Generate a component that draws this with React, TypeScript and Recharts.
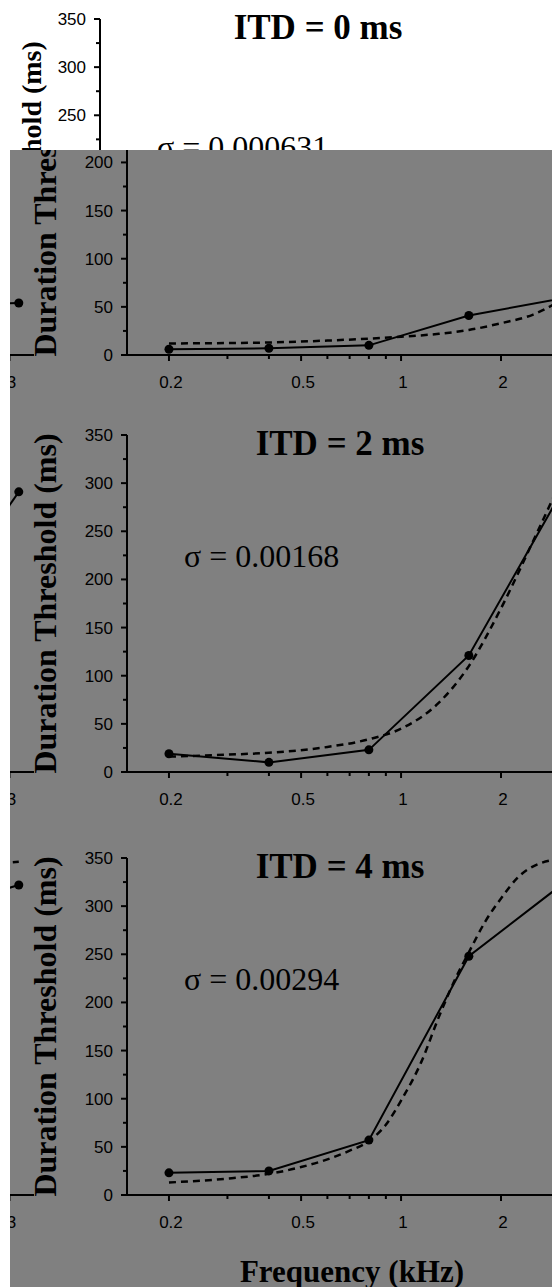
import { Line, LineChart, XAxis, YAxis } from "recharts";

// frequencies (kHz) of the measured points
const FREQS = [0.2, 0.4, 0.8, 1.6, 3.2];

const itd0Thresholds = [6, 7, 10, 41, 60];
const itd2Thresholds = [19, 10, 23, 121, 304];
const itd4Thresholds = [23, 25, 57, 248, 328];

// model fits (dashed)
const itd0FitFreqs = [0.2, 0.4, 0.6, 0.8, 1.0, 1.3, 1.6, 2.0, 2.5, 3.2];
const itd0FitValues = [12, 13, 15, 17, 19, 22, 26, 33, 42, 62];
const itd2FitFreqs = [0.2, 0.3, 0.4, 0.6, 0.8, 1.0, 1.3, 1.6, 2.0, 2.5, 3.2];
const itd2FitValues = [16, 18, 20, 26, 34, 45, 72, 110, 170, 240, 320];
const itd4FitFreqs = [0.2, 0.3, 0.4, 0.5, 0.6, 0.7, 0.8, 0.9, 1.0, 1.15, 1.3, 1.45, 1.6, 1.8, 2.0, 2.25, 2.6, 3.2];
const itd4FitValues = [13, 17, 22, 29, 37, 46, 56, 73, 98, 138, 185, 223, 252, 285, 308, 330, 344, 350];

// right edge of the neighbouring (cropped) panels
const neighborFreqs = [1.6, 3.2];
const neighbor0Thresholds = [52, 54];
const neighbor2Thresholds = [140, 291];
const neighbor4Thresholds = [290, 322];
const neighbor4FitFreqs = [2.6, 3.2];
const neighbor4FitValues = [344, 346];

const X_TICKS = [0.2, 0.3, 0.4, 0.5, 0.6, 0.7, 0.8, 0.9, 1, 2, 3];
const X_LABELS = [0.2, 0.5, 1, 2, 3];
const Y_TICKS = [0, 25, 50, 75, 100, 125, 150, 175, 200, 225, 250, 275, 300, 325, 350];
const Y_LABELS = [0, 50, 100, 150, 200, 250, 300, 350];

const X_DOMAIN = [0.1495, 3.556];
const GRAY = "#808080";
const SERIF = "'Liberation Serif', 'Times New Roman', serif";
const SANS = "'Liberation Sans', Arial, sans-serif";

const toRows = (xs: number[], ys: number[]) => xs.map((f, i) => ({ f, v: ys[i] }));

const XTick = (props: any) => {
  const { x, y, payload } = props;
  const labelled = X_LABELS.includes(payload.value);
  return (
    <g>
      <line x1={x} x2={x} y1={y} y2={y + (labelled ? 6 : 4)} stroke="#000" strokeWidth={2} />
      {labelled && (
        <text x={x + 2} y={y + 33} textAnchor="middle" fontSize={17} fontFamily={SANS} fill="#000">
          {payload.value}
        </text>
      )}
    </g>
  );
};

const YTick = (props: any) => {
  const { x, y, payload } = props;
  const labelled = Y_LABELS.includes(payload.value);
  return (
    <g>
      <line x1={x - (labelled ? 6 : 4)} x2={x} y1={y} y2={y} stroke="#000" strokeWidth={2} />
      {labelled && (
        <text x={x - 14} y={y + 6} textAnchor="end" fontSize={17} fontFamily={SANS} fill="#000">
          {payload.value}
        </text>
      )}
    </g>
  );
};

type PanelProps = {
  zero: number;
  left: number;
  title?: string;
  sigma?: string;
  freqs: number[];
  values: number[];
  fitFreqs?: number[];
  fitValues?: number[];
  titleX?: number;
  sigmaY?: number;
  labelX?: number;
  labelY?: number;
  labelSize?: number;
};

const Panel = ({
  zero,
  left,
  title,
  sigma,
  freqs,
  values,
  fitFreqs,
  fitValues,
  titleX = 340,
  sigmaY = 142,
  labelX = 56,
  labelY = 178.5,
  labelSize = 32,
}: PanelProps) => {
  const points = toRows(freqs, values);
  const fit = fitFreqs && fitValues ? toRows(fitFreqs, fitValues) : null;
  return (
    <div style={{ position: "absolute", left, top: zero - 347, width: 594, height: 397 }}>
      <LineChart width={594} height={397} margin={{ top: 10, right: 10, bottom: 0, left: 67 }}>
        <XAxis
          dataKey="f"
          type="number"
          scale="log"
          domain={X_DOMAIN}
          allowDataOverflow
          ticks={X_TICKS}
          interval={0}
          tick={XTick}
          tickLine={false}
          tickSize={0}
          tickMargin={0}
          axisLine={{ stroke: "#000", strokeWidth: 2 }}
          height={50}
        />
        <YAxis
          type="number"
          domain={[0, 350]}
          ticks={Y_TICKS}
          interval={0}
          tick={YTick}
          tickLine={false}
          tickSize={0}
          tickMargin={0}
          axisLine={{ stroke: "#000", strokeWidth: 2 }}
          width={60}
        />
        {fit && (
          <Line
            data={fit}
            dataKey="v"
            type="monotone"
            stroke="#000"
            strokeWidth={2.5}
            strokeDasharray="7 5"
            dot={false}
            isAnimationActive={false}
          />
        )}
        <Line
          data={points}
          dataKey="v"
          type="linear"
          stroke="#000"
          strokeWidth={2}
          dot={{ r: 4.5, fill: "#000", stroke: "#000", strokeWidth: 0 }}
          isAnimationActive={false}
        />
      </LineChart>
      <svg
        width={594}
        height={397}
        style={{ position: "absolute", left: 0, top: 0, pointerEvents: "none" }}
      >
        {title && (
          <text x={titleX} y={30} textAnchor="middle" fontSize={35} fontWeight="bold" fontFamily={SERIF} fill="#000">
            {title}
          </text>
        )}
        {sigma && (
          <text x={184} y={sigmaY} fontSize={32} fontFamily={SERIF} fill="#000">
            {sigma}
          </text>
        )}
        {title && (
          <text
            transform={`translate(${labelX},${labelY}) rotate(-90)`}
            textAnchor="middle"
            fontSize={labelSize}
            fontWeight="bold"
            fontFamily={SERIF}
            fill="#000"
          >
            Duration Threshold (ms)
          </text>
        )}
      </svg>
    </div>
  );
};

const NEIGHBOR = -550;

export default function App() {
  return (
    <div
      style={{
        position: "absolute",
        left: 0,
        top: 0,
        width: 552,
        height: 1287,
        overflow: "hidden",
        background: "#fff",
      }}
    >
      {/* top strip: a shifted white-background copy of the first panel */}
      <div style={{ position: "absolute", left: 0, top: 0, width: 552, height: 150, overflow: "hidden" }}>
        <Panel
          zero={356}
          left={-27}
          title="ITD = 0 ms"
          sigma={"σ  = 0.000631"}
          freqs={FREQS}
          values={itd0Thresholds}
          fitFreqs={itd0FitFreqs}
          fitValues={itd0FitValues}
          titleX={345}
          sigmaY={149}
          labelX={68}
          labelY={181}
          labelSize={28}
        />
      </div>

      <div
        style={{
          position: "absolute",
          left: 10,
          top: 150,
          width: 542,
          height: 1137,
          overflow: "hidden",
          background: GRAY,
        }}
      >
        <div style={{ position: "absolute", left: -10, top: -150, width: 552, height: 1287 }}>
          <Panel zero={355} left={NEIGHBOR} freqs={neighborFreqs} values={neighbor0Thresholds} />
          <Panel zero={772} left={NEIGHBOR} freqs={neighborFreqs} values={neighbor2Thresholds} />
          <Panel
            zero={1195}
            left={NEIGHBOR}
            freqs={neighborFreqs}
            values={neighbor4Thresholds}
            fitFreqs={neighbor4FitFreqs}
            fitValues={neighbor4FitValues}
          />

          <Panel
            zero={355}
            left={0}
            title="ITD = 0 ms"
            sigma={"σ  = 0.000631"}
            freqs={FREQS}
            values={itd0Thresholds}
            fitFreqs={itd0FitFreqs}
            fitValues={itd0FitValues}
          />
          <Panel
            zero={772}
            left={0}
            title="ITD = 2 ms"
            sigma={"σ  = 0.00168"}
            freqs={FREQS}
            values={itd2Thresholds}
            fitFreqs={itd2FitFreqs}
            fitValues={itd2FitValues}
          />
          <Panel
            zero={1195}
            left={0}
            title="ITD = 4 ms"
            sigma={"σ  = 0.00294"}
            freqs={FREQS}
            values={itd4Thresholds}
            fitFreqs={itd4FitFreqs}
            fitValues={itd4FitValues}
          />

          <div
            style={{
              position: "absolute",
              left: 352 - 150,
              top: 1255,
              width: 300,
              textAlign: "center",
              fontFamily: SERIF,
              fontWeight: "bold",
              fontSize: 31,
              lineHeight: "34px",
              color: "#000",
            }}
          >
            Frequency (kHz)
          </div>
        </div>
      </div>
    </div>
  );
}
